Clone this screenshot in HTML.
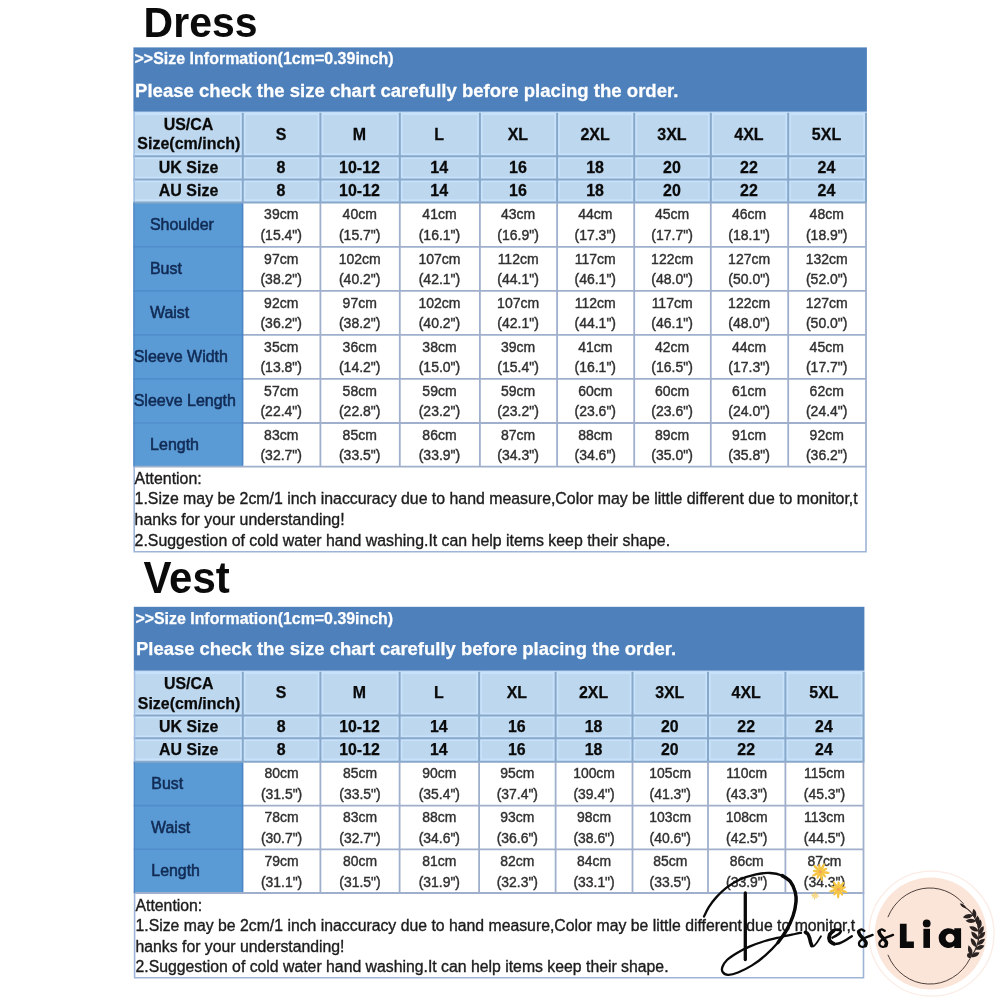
<!DOCTYPE html>
<html><head><meta charset="utf-8"><title>Size chart</title>
<style>
html,body{margin:0;padding:0;background:#fff;}
body{width:1000px;height:1000px;overflow:hidden;}
svg{display:block;font-family:"Liberation Sans",sans-serif;filter:blur(0.45px);}
.ti{font-weight:bold;fill:#0b0b0b;}
.w{font-weight:bold;fill:#fff;stroke:#fff;stroke-width:0.25;}
.h{font-weight:bold;fill:#0a0a0a;text-anchor:middle;stroke:#0a0a0a;stroke-width:0.25;}
.l{fill:#112b55;stroke:#112b55;stroke-width:0.55;}
.d{fill:#303030;text-anchor:middle;stroke:#303030;stroke-width:0.4;}
.n{fill:#1c1c1c;stroke:#1c1c1c;stroke-width:0.35;}
</style></head>
<body>
<svg width="1000" height="1000" viewBox="0 0 1000 1000">
<rect width="1000" height="1000" fill="#fff"/>
<g id="dress">
<text class="ti" transform="translate(143.6 37.4) scale(1 1.035)" font-size="41">Dress</text>
<rect x="133.4" y="47.4" width="733.5" height="64.4" fill="#4e80bc"/>
<rect x="133.4" y="111.8" width="733.5" height="90.6" fill="#bdd7ee"/>
<rect x="133.4" y="202.4" width="109.6" height="264.2" fill="#5b9bd5"/>
<line x1="133.4" x2="242.8" y1="246.8" y2="246.8" stroke="#4f8ccb" stroke-width="1.6"/>
<line x1="133.4" x2="242.8" y1="290.9" y2="290.9" stroke="#4f8ccb" stroke-width="1.6"/>
<line x1="133.4" x2="242.8" y1="334.9" y2="334.9" stroke="#4f8ccb" stroke-width="1.6"/>
<line x1="133.4" x2="242.8" y1="378.9" y2="378.9" stroke="#4f8ccb" stroke-width="1.6"/>
<line x1="133.4" x2="242.8" y1="423" y2="423" stroke="#4f8ccb" stroke-width="1.6"/>
<path d="M133.4 156.2H866.9M133.4 179.6H866.9M242.8 112.8V202.4M320.4 112.8V202.4M399.8 112.8V202.4M479.9 112.8V202.4M557.1 112.8V202.4M634.2 112.8V202.4M710.8 112.8V202.4M788.2 112.8V202.4" stroke="#c9e2fb" stroke-width="5.5" fill="none"/>
<path d="M864.4 112.8V202.4" stroke="#c9e2fb" stroke-width="2.4" fill="none"/>
<path d="M133.4 113.8H866.9" stroke="#c9e2fb" stroke-width="2.4" fill="none"/>
<path d="M133.4 200.4H866.9" stroke="#c9e2fb" stroke-width="2.4" fill="none"/>
<path d="M133.4 156.2H866.9M133.4 179.6H866.9M133.4 202.4H866.9M242.8 112.8V202.4M320.4 112.8V202.4M399.8 112.8V202.4M479.9 112.8V202.4M557.1 112.8V202.4M634.2 112.8V202.4M710.8 112.8V202.4M788.2 112.8V202.4M866 112.8V202.4" stroke="#88a8ca" stroke-width="2" fill="none"/>
<path d="M242.8 246.8H866.9M242.8 290.9H866.9M242.8 334.9H866.9M242.8 378.9H866.9M242.8 423H866.9M133.4 466.6H866.9M320.4 202.4V466.6M399.8 202.4V466.6M479.9 202.4V466.6M557.1 202.4V466.6M634.2 202.4V466.6M710.8 202.4V466.6M788.2 202.4V466.6M866 202.4V466.6" stroke="#a0b0cc" stroke-width="1.8" fill="none"/>
<path d="M242.6 203.4V465.6" stroke="#4b85c5" stroke-width="1.6" fill="none"/>
<path d="M134.2 111.8V202.4" stroke="#9fbde0" stroke-width="1.4" fill="none"/>
<path d="M134 202.4V466.6" stroke="#4f86c6" stroke-width="1.2" fill="none"/>
<path d="M134.2 466.6V551.7H866V466.6" stroke="#9db4d6" stroke-width="1.6" fill="none"/>
<text transform="translate(134.5 64.3) scale(1 1.03)" class="w" font-size="16">&gt;&gt;Size Information(1cm=0.39inch)</text>
<text transform="translate(135.1 97) scale(1 1.03)" class="w" font-size="18.55">Please check the size chart carefully before placing the order.</text>
<g class="h" font-size="16">
<text transform="translate(188.5 129.7) scale(1 1.03)">US/CA</text><text transform="translate(188.9 149.3) scale(1 1.03)">Size(cm/inch)</text>
<text transform="translate(281 139.5) scale(1 1.03)">S</text>
<text transform="translate(359.5 139.5) scale(1 1.03)">M</text>
<text transform="translate(439.25 139.5) scale(1 1.03)">L</text>
<text transform="translate(517.9 139.5) scale(1 1.03)">XL</text>
<text transform="translate(595.05 139.5) scale(1 1.03)">2XL</text>
<text transform="translate(671.9 139.5) scale(1 1.03)">3XL</text>
<text transform="translate(748.9 139.5) scale(1 1.03)">4XL</text>
<text transform="translate(826.5 139.5) scale(1 1.03)">5XL</text>
<text transform="translate(188.5 173.1) scale(1 1.03)">UK Size</text>
<text transform="translate(281 173.1) scale(1 1.03)">8</text>
<text transform="translate(359.5 173.1) scale(1 1.03)">10-12</text>
<text transform="translate(439.25 173.1) scale(1 1.03)">14</text>
<text transform="translate(517.9 173.1) scale(1 1.03)">16</text>
<text transform="translate(595.05 173.1) scale(1 1.03)">18</text>
<text transform="translate(671.9 173.1) scale(1 1.03)">20</text>
<text transform="translate(748.9 173.1) scale(1 1.03)">22</text>
<text transform="translate(826.5 173.1) scale(1 1.03)">24</text>
<text transform="translate(188.5 196) scale(1 1.03)">AU Size</text>
<text transform="translate(281 196) scale(1 1.03)">8</text>
<text transform="translate(359.5 196) scale(1 1.03)">10-12</text>
<text transform="translate(439.25 196) scale(1 1.03)">14</text>
<text transform="translate(517.9 196) scale(1 1.03)">16</text>
<text transform="translate(595.05 196) scale(1 1.03)">18</text>
<text transform="translate(671.9 196) scale(1 1.03)">20</text>
<text transform="translate(748.9 196) scale(1 1.03)">22</text>
<text transform="translate(826.5 196) scale(1 1.03)">24</text>
</g>
<g class="l" font-size="16">
<text transform="translate(149.9 229.9) scale(1 1.03)">Shoulder</text>
<text transform="translate(149.9 274.15) scale(1 1.03)">Bust</text>
<text transform="translate(149.9 318.2) scale(1 1.03)">Waist</text>
<text transform="translate(133.7 362.2) scale(1 1.03)">Sleeve Width</text>
<text transform="translate(133.7 406.25) scale(1 1.03)">Sleeve Length</text>
<text transform="translate(150.1 450.1) scale(1 1.03)">Length</text>
</g>
<g class="d" font-size="14">
<text transform="translate(281.2 219.3) scale(1 1.03)">39cm</text><text transform="translate(281.2 240.1) scale(1 1.03)">(15.4")</text>
<text transform="translate(359.7 219.3) scale(1 1.03)">40cm</text><text transform="translate(359.7 240.1) scale(1 1.03)">(15.7")</text>
<text transform="translate(439.45 219.3) scale(1 1.03)">41cm</text><text transform="translate(439.45 240.1) scale(1 1.03)">(16.1")</text>
<text transform="translate(518.1 219.3) scale(1 1.03)">43cm</text><text transform="translate(518.1 240.1) scale(1 1.03)">(16.9")</text>
<text transform="translate(595.25 219.3) scale(1 1.03)">44cm</text><text transform="translate(595.25 240.1) scale(1 1.03)">(17.3")</text>
<text transform="translate(672.1 219.3) scale(1 1.03)">45cm</text><text transform="translate(672.1 240.1) scale(1 1.03)">(17.7")</text>
<text transform="translate(749.1 219.3) scale(1 1.03)">46cm</text><text transform="translate(749.1 240.1) scale(1 1.03)">(18.1")</text>
<text transform="translate(826.7 219.3) scale(1 1.03)">48cm</text><text transform="translate(826.7 240.1) scale(1 1.03)">(18.9")</text>
<text transform="translate(281.2 263.55) scale(1 1.03)">97cm</text><text transform="translate(281.2 284.35) scale(1 1.03)">(38.2")</text>
<text transform="translate(359.7 263.55) scale(1 1.03)">102cm</text><text transform="translate(359.7 284.35) scale(1 1.03)">(40.2")</text>
<text transform="translate(439.45 263.55) scale(1 1.03)">107cm</text><text transform="translate(439.45 284.35) scale(1 1.03)">(42.1")</text>
<text transform="translate(518.1 263.55) scale(1 1.03)">112cm</text><text transform="translate(518.1 284.35) scale(1 1.03)">(44.1")</text>
<text transform="translate(595.25 263.55) scale(1 1.03)">117cm</text><text transform="translate(595.25 284.35) scale(1 1.03)">(46.1")</text>
<text transform="translate(672.1 263.55) scale(1 1.03)">122cm</text><text transform="translate(672.1 284.35) scale(1 1.03)">(48.0")</text>
<text transform="translate(749.1 263.55) scale(1 1.03)">127cm</text><text transform="translate(749.1 284.35) scale(1 1.03)">(50.0")</text>
<text transform="translate(826.7 263.55) scale(1 1.03)">132cm</text><text transform="translate(826.7 284.35) scale(1 1.03)">(52.0")</text>
<text transform="translate(281.2 307.6) scale(1 1.03)">92cm</text><text transform="translate(281.2 328.4) scale(1 1.03)">(36.2")</text>
<text transform="translate(359.7 307.6) scale(1 1.03)">97cm</text><text transform="translate(359.7 328.4) scale(1 1.03)">(38.2")</text>
<text transform="translate(439.45 307.6) scale(1 1.03)">102cm</text><text transform="translate(439.45 328.4) scale(1 1.03)">(40.2")</text>
<text transform="translate(518.1 307.6) scale(1 1.03)">107cm</text><text transform="translate(518.1 328.4) scale(1 1.03)">(42.1")</text>
<text transform="translate(595.25 307.6) scale(1 1.03)">112cm</text><text transform="translate(595.25 328.4) scale(1 1.03)">(44.1")</text>
<text transform="translate(672.1 307.6) scale(1 1.03)">117cm</text><text transform="translate(672.1 328.4) scale(1 1.03)">(46.1")</text>
<text transform="translate(749.1 307.6) scale(1 1.03)">122cm</text><text transform="translate(749.1 328.4) scale(1 1.03)">(48.0")</text>
<text transform="translate(826.7 307.6) scale(1 1.03)">127cm</text><text transform="translate(826.7 328.4) scale(1 1.03)">(50.0")</text>
<text transform="translate(281.2 351.6) scale(1 1.03)">35cm</text><text transform="translate(281.2 372.4) scale(1 1.03)">(13.8")</text>
<text transform="translate(359.7 351.6) scale(1 1.03)">36cm</text><text transform="translate(359.7 372.4) scale(1 1.03)">(14.2")</text>
<text transform="translate(439.45 351.6) scale(1 1.03)">38cm</text><text transform="translate(439.45 372.4) scale(1 1.03)">(15.0")</text>
<text transform="translate(518.1 351.6) scale(1 1.03)">39cm</text><text transform="translate(518.1 372.4) scale(1 1.03)">(15.4")</text>
<text transform="translate(595.25 351.6) scale(1 1.03)">41cm</text><text transform="translate(595.25 372.4) scale(1 1.03)">(16.1")</text>
<text transform="translate(672.1 351.6) scale(1 1.03)">42cm</text><text transform="translate(672.1 372.4) scale(1 1.03)">(16.5")</text>
<text transform="translate(749.1 351.6) scale(1 1.03)">44cm</text><text transform="translate(749.1 372.4) scale(1 1.03)">(17.3")</text>
<text transform="translate(826.7 351.6) scale(1 1.03)">45cm</text><text transform="translate(826.7 372.4) scale(1 1.03)">(17.7")</text>
<text transform="translate(281.2 395.65) scale(1 1.03)">57cm</text><text transform="translate(281.2 416.45) scale(1 1.03)">(22.4")</text>
<text transform="translate(359.7 395.65) scale(1 1.03)">58cm</text><text transform="translate(359.7 416.45) scale(1 1.03)">(22.8")</text>
<text transform="translate(439.45 395.65) scale(1 1.03)">59cm</text><text transform="translate(439.45 416.45) scale(1 1.03)">(23.2")</text>
<text transform="translate(518.1 395.65) scale(1 1.03)">59cm</text><text transform="translate(518.1 416.45) scale(1 1.03)">(23.2")</text>
<text transform="translate(595.25 395.65) scale(1 1.03)">60cm</text><text transform="translate(595.25 416.45) scale(1 1.03)">(23.6")</text>
<text transform="translate(672.1 395.65) scale(1 1.03)">60cm</text><text transform="translate(672.1 416.45) scale(1 1.03)">(23.6")</text>
<text transform="translate(749.1 395.65) scale(1 1.03)">61cm</text><text transform="translate(749.1 416.45) scale(1 1.03)">(24.0")</text>
<text transform="translate(826.7 395.65) scale(1 1.03)">62cm</text><text transform="translate(826.7 416.45) scale(1 1.03)">(24.4")</text>
<text transform="translate(281.2 439.5) scale(1 1.03)">83cm</text><text transform="translate(281.2 460.3) scale(1 1.03)">(32.7")</text>
<text transform="translate(359.7 439.5) scale(1 1.03)">85cm</text><text transform="translate(359.7 460.3) scale(1 1.03)">(33.5")</text>
<text transform="translate(439.45 439.5) scale(1 1.03)">86cm</text><text transform="translate(439.45 460.3) scale(1 1.03)">(33.9")</text>
<text transform="translate(518.1 439.5) scale(1 1.03)">87cm</text><text transform="translate(518.1 460.3) scale(1 1.03)">(34.3")</text>
<text transform="translate(595.25 439.5) scale(1 1.03)">88cm</text><text transform="translate(595.25 460.3) scale(1 1.03)">(34.6")</text>
<text transform="translate(672.1 439.5) scale(1 1.03)">89cm</text><text transform="translate(672.1 460.3) scale(1 1.03)">(35.0")</text>
<text transform="translate(749.1 439.5) scale(1 1.03)">91cm</text><text transform="translate(749.1 460.3) scale(1 1.03)">(35.8")</text>
<text transform="translate(826.7 439.5) scale(1 1.03)">92cm</text><text transform="translate(826.7 460.3) scale(1 1.03)">(36.2")</text>
</g>
<g class="n" font-size="15.88">
<text transform="translate(134.6 483.6) scale(1 1.03)">Attention:</text>
<text transform="translate(134.6 504.4) scale(1 1.03)">1.Size may be 2cm/1 inch inaccuracy due to hand measure,Color may be little different due to monitor,t</text>
<text transform="translate(134.6 525) scale(1 1.03)">hanks for your understanding!</text>
<text transform="translate(134.6 546) scale(1 1.03)">2.Suggestion of cold water hand washing.It can help items keep their shape.</text>
</g>
</g>
<g id="vest">
<text class="ti" transform="translate(143.4 593.1) scale(1 1.035)" font-size="42">Vest</text>
<rect x="133.8" y="606.8" width="730.6" height="64" fill="#4e80bc"/>
<rect x="133.8" y="670.8" width="730.6" height="90.9" fill="#bdd7ee"/>
<rect x="133.8" y="761.7" width="109.2" height="131.3" fill="#5b9bd5"/>
<line x1="133.8" x2="242.8" y1="805.6" y2="805.6" stroke="#4f8ccb" stroke-width="1.6"/>
<line x1="133.8" x2="242.8" y1="849.3" y2="849.3" stroke="#4f8ccb" stroke-width="1.6"/>
<path d="M133.8 715.5H864.4M133.8 738.3H864.4M242.8 671.8V761.7M320.4 671.8V761.7M399.6 671.8V761.7M479.1 671.8V761.7M555.6 671.8V761.7M632.5 671.8V761.7M708 671.8V761.7M785.4 671.8V761.7" stroke="#c9e2fb" stroke-width="5.5" fill="none"/>
<path d="M861.9 671.8V761.7" stroke="#c9e2fb" stroke-width="2.4" fill="none"/>
<path d="M133.8 672.8H864.4" stroke="#c9e2fb" stroke-width="2.4" fill="none"/>
<path d="M133.8 759.7H864.4" stroke="#c9e2fb" stroke-width="2.4" fill="none"/>
<path d="M133.8 715.5H864.4M133.8 738.3H864.4M133.8 761.7H864.4M242.8 671.8V761.7M320.4 671.8V761.7M399.6 671.8V761.7M479.1 671.8V761.7M555.6 671.8V761.7M632.5 671.8V761.7M708 671.8V761.7M785.4 671.8V761.7M863.5 671.8V761.7" stroke="#88a8ca" stroke-width="2" fill="none"/>
<path d="M242.8 805.6H864.4M242.8 849.3H864.4M133.8 893H864.4M320.4 761.7V893M399.6 761.7V893M479.1 761.7V893M555.6 761.7V893M632.5 761.7V893M708 761.7V893M785.4 761.7V893M863.5 761.7V893" stroke="#a0b0cc" stroke-width="1.8" fill="none"/>
<path d="M242.6 762.7V892" stroke="#4b85c5" stroke-width="1.6" fill="none"/>
<path d="M134.6 670.8V761.7" stroke="#9fbde0" stroke-width="1.4" fill="none"/>
<path d="M134.4 761.7V893" stroke="#4f86c6" stroke-width="1.2" fill="none"/>
<path d="M134.6 893V977.8H863.5V893" stroke="#9db4d6" stroke-width="1.6" fill="none"/>
<text x="135.4" y="624" class="w" font-size="15.92">&gt;&gt;Size Information(1cm=0.39inch)</text>
<text x="136" y="655.4" class="w" font-size="18.46">Please check the size chart carefully before placing the order.</text>
<g class="h" font-size="15.92">
<text x="188.7" y="688.5">US/CA</text><text x="189.1" y="708.7">Size(cm/inch)</text>
<text x="281.1" y="698.1">S</text>
<text x="359.5" y="698.1">M</text>
<text x="438.85" y="698.1">L</text>
<text x="516.85" y="698.1">XL</text>
<text x="593.55" y="698.1">2XL</text>
<text x="669.75" y="698.1">3XL</text>
<text x="746.2" y="698.1">4XL</text>
<text x="823.95" y="698.1">5XL</text>
<text x="188.7" y="732.1">UK Size</text>
<text x="281.1" y="732.1">8</text>
<text x="359.5" y="732.1">10-12</text>
<text x="438.85" y="732.1">14</text>
<text x="516.85" y="732.1">16</text>
<text x="593.55" y="732.1">18</text>
<text x="669.75" y="732.1">20</text>
<text x="746.2" y="732.1">22</text>
<text x="823.95" y="732.1">24</text>
<text x="188.7" y="755.2">AU Size</text>
<text x="281.1" y="755.2">8</text>
<text x="359.5" y="755.2">10-12</text>
<text x="438.85" y="755.2">14</text>
<text x="516.85" y="755.2">16</text>
<text x="593.55" y="755.2">18</text>
<text x="669.75" y="755.2">20</text>
<text x="746.2" y="755.2">22</text>
<text x="823.95" y="755.2">24</text>
</g>
<g class="l" font-size="15.92">
<text x="151.3" y="788.95">Bust</text>
<text x="151.1" y="832.75">Waist</text>
<text x="151.3" y="876.45">Length</text>
</g>
<g class="d" font-size="13.93">
<text x="281.6" y="778.35">80cm</text><text x="281.6" y="799.15">(31.5")</text>
<text x="360" y="778.35">85cm</text><text x="360" y="799.15">(33.5")</text>
<text x="439.35" y="778.35">90cm</text><text x="439.35" y="799.15">(35.4")</text>
<text x="517.35" y="778.35">95cm</text><text x="517.35" y="799.15">(37.4")</text>
<text x="594.05" y="778.35">100cm</text><text x="594.05" y="799.15">(39.4")</text>
<text x="670.25" y="778.35">105cm</text><text x="670.25" y="799.15">(41.3")</text>
<text x="746.7" y="778.35">110cm</text><text x="746.7" y="799.15">(43.3")</text>
<text x="824.45" y="778.35">115cm</text><text x="824.45" y="799.15">(45.3")</text>
<text x="281.6" y="822.15">78cm</text><text x="281.6" y="842.95">(30.7")</text>
<text x="360" y="822.15">83cm</text><text x="360" y="842.95">(32.7")</text>
<text x="439.35" y="822.15">88cm</text><text x="439.35" y="842.95">(34.6")</text>
<text x="517.35" y="822.15">93cm</text><text x="517.35" y="842.95">(36.6")</text>
<text x="594.05" y="822.15">98cm</text><text x="594.05" y="842.95">(38.6")</text>
<text x="670.25" y="822.15">103cm</text><text x="670.25" y="842.95">(40.6")</text>
<text x="746.7" y="822.15">108cm</text><text x="746.7" y="842.95">(42.5")</text>
<text x="824.45" y="822.15">113cm</text><text x="824.45" y="842.95">(44.5")</text>
<text x="281.6" y="865.85">79cm</text><text x="281.6" y="886.65">(31.1")</text>
<text x="360" y="865.85">80cm</text><text x="360" y="886.65">(31.5")</text>
<text x="439.35" y="865.85">81cm</text><text x="439.35" y="886.65">(31.9")</text>
<text x="517.35" y="865.85">82cm</text><text x="517.35" y="886.65">(32.3")</text>
<text x="594.05" y="865.85">84cm</text><text x="594.05" y="886.65">(33.1")</text>
<text x="670.25" y="865.85">85cm</text><text x="670.25" y="886.65">(33.5")</text>
<text x="746.7" y="865.85">86cm</text><text x="746.7" y="886.65">(33.9")</text>
<text x="824.45" y="865.85">87cm</text><text x="824.45" y="886.65">(34.3")</text>
</g>
<g class="n" font-size="15.8">
<text x="135.5" y="910.6">Attention:</text>
<text x="135.5" y="931">1.Size may be 2cm/1 inch inaccuracy due to hand measure,Color may be little different due to monitor,t</text>
<text x="135.5" y="951.5">hanks for your understanding!</text>
<text x="135.5" y="972.2">2.Suggestion of cold water hand washing.It can help items keep their shape.</text>
</g>
</g>
<g id="logo">
<circle cx="931.5" cy="933.7" r="62.5" fill="none" stroke="#fbece5" stroke-width="1.3"/>
<circle cx="930.7" cy="933.6" r="56" fill="#fbe4d8"/>
<path d="M887.9 917.2A45.5 48 0 0 1 963.6 903.9M887.9 954.8A45.5 48 0 0 0 970 958.5" fill="none" stroke="#3b2e29" stroke-width="0.9"/>
<g fill="none" stroke="#0a0a0a" stroke-linecap="round" stroke-linejoin="round">
<path d="M704 916.5C704.8 915 706.8 910.4 708.8 907.2C710.8 904.1 712.9 900.9 716 897.6C719.1 894.3 723.2 890.2 727.2 887.2C731.2 884.2 735.2 881.6 740 879.5C744.8 877.4 751 875.5 756 874.4C761 873.3 765.7 872.8 770 873C774.3 873.2 778.6 874.1 782 875.5C785.4 876.9 788.2 878.9 790.4 881.6C792.6 884.4 794.3 888.6 795.2 892C796.1 895.4 796.4 898 796 902C795.6 906 794.6 911.3 793 916C791.4 920.7 788.9 926 786.4 930.4C783.9 934.8 781.5 938.5 778 942.6C774.5 946.7 769.9 951.4 765.6 955.2C761.3 959 756.6 962.5 752 965.4C747.4 968.3 742 970.9 738 972.5C734 974.1 730.5 974.9 728 974.8C725.5 974.7 723.6 973.3 722.7 972C721.8 970.7 721.7 969 722.4 967C723.1 965 724.6 962.3 727 960C729.4 957.7 733.2 955.3 737 953C740.8 950.7 745.3 948.4 750 946.4C754.7 944.4 759.8 942.6 765 941C770.2 939.4 776 938.2 781 937C786 935.8 791.7 934.7 795 934C798.3 933.3 800 933 801 932.8" stroke-width="2.3"/>
<path d="M782 875.5C783.4 876.5 788.2 878.9 790.4 881.6C792.6 884.4 794.3 888.6 795.2 892C796.1 895.4 796.4 898 796 902C795.6 906 794.6 911.3 793 916C791.4 920.7 788.9 926 786.4 930.4C783.9 934.8 779.4 940.6 778 942.6" stroke-width="3.4"/>
<path d="M745.3 893V959.5" stroke-width="3.3"/>
<path d="M805.4 932.4C805.8 932.7 807.1 933.1 807.8 934C808.5 934.9 808.9 936.2 809.4 937.5C809.9 938.8 810.1 940.6 810.5 942C810.9 943.4 811.6 945 811.8 945.6" stroke-width="3.6"/>
<path d="M811.6 946C811.9 946 812.9 946.6 813.6 946.2C814.3 945.8 815.2 944.8 816 943.8C816.8 942.8 817.8 941.2 818.6 940C819.4 938.8 820.6 936.9 821 936.3" stroke-width="1.8"/>
<path d="M832.5 937.6C833.2 937.2 835.2 936.2 836.5 935.4C837.8 934.6 839.5 933.4 840.2 932.6C840.9 931.8 841 931.1 840.6 930.6C840.2 930.1 839.2 929.6 838 929.6C836.8 929.6 834.9 929.9 833.5 930.8C832.1 931.7 830.2 933.4 829.6 935C829 936.6 828.9 939.1 829.6 940.6C830.3 942.1 832.1 943.4 833.8 943.8C835.4 944.2 837.5 943.8 839.5 943.2C841.5 942.6 844 941.2 846 940C848 938.8 850.8 936.8 851.8 936.2" stroke-width="2.5"/>
<path d="M833.5 930.8C832.9 931.5 830.2 933.4 829.6 935C829 936.6 828.9 939.1 829.6 940.6C830.3 942.1 833.1 943.3 833.8 943.8" stroke-width="3.8"/>
<path d="M864.3 930.8C863.8 930.6 862.2 929.3 861.2 929.4C860.2 929.5 858.8 930.7 858.6 931.6C858.4 932.5 859.2 933.8 860 935C860.8 936.2 862.2 937.5 863.2 938.7C864.2 939.9 865.6 941.2 866 942.4C866.4 943.5 866 944.9 865.4 945.6C864.8 946.4 863.4 947 862.4 946.9C861.4 946.8 859.7 945.9 859.2 945C858.7 944.1 858.9 942.6 859.6 941.6C860.3 940.6 861.8 939.5 863.2 938.7C864.6 937.9 866.4 937.2 868 936.6C869.6 936 871.8 935.2 872.6 934.9" stroke-width="2.4"/>
<path d="M858.6 931.6C858.8 932.2 859.2 933.8 860 935C860.8 936.2 862.2 937.5 863.2 938.7C864.2 939.9 865.6 941.2 866 942.4C866.4 943.5 865.5 945.1 865.4 945.6" stroke-width="3.6"/>
<path d="M884.7 930.8C884.2 930.6 882.5 929.3 881.6 929.4C880.7 929.5 879.2 930.7 879 931.6C878.8 932.5 879.6 933.8 880.4 935C881.2 936.2 882.6 937.5 883.6 938.7C884.6 939.9 886 941.2 886.4 942.4C886.8 943.5 886.4 944.9 885.8 945.6C885.2 946.4 883.8 947 882.8 946.9C881.8 946.8 880.1 945.9 879.6 945C879.1 944.1 879.3 942.6 880 941.6C880.7 940.6 882.2 939.5 883.6 938.7C885 937.9 886.8 937.2 888.4 936.6C890 936 892.2 935.2 893 934.9" stroke-width="2.4"/>
<path d="M879 931.6C879.2 932.2 879.6 933.8 880.4 935C881.2 936.2 882.6 937.5 883.6 938.7C884.6 939.9 886 941.2 886.4 942.4C886.8 943.5 885.9 945.1 885.8 945.6" stroke-width="3.6"/>
</g>
<g fill="#0a0a0a">
<path d="M899.9 923.8H906.6V941.6H913.9V947.9H899.9Z"/>
<rect x="923.4" y="928.8" width="6.6" height="19.1"/><circle cx="926.7" cy="923.4" r="3.9"/>
<path fill-rule="evenodd" d="M954.3 928.2H961.1V947.9H954.3V946.1A9.9 9.9 0 1 1 954.3 930ZM954.4 938.1A4.4 4.4 0 1 0 945.6 938.1A4.4 4.4 0 1 0 954.4 938.1Z"/>
</g>
<path d="M970 958.2C970.8 957 973.5 953.5 974.8 950.8C976.1 948.1 977.3 944.9 978 942C978.7 939.1 978.9 935.9 978.9 933.2C978.9 930.5 978.5 928.3 978 926C977.5 923.7 976.5 921.6 975.6 919.6C974.7 917.6 973.7 915.7 972.4 914C971.1 912.3 969.4 910.7 967.6 909.2C965.8 907.7 962.5 905.9 961.5 905.2" fill="none" stroke="#2a2321" stroke-width="1.1"/>
<path d="M973.3 915.3Q967.3 912.1 962.8 917.2Q968.8 920.4 973.3 915.3ZM976.3 921.1Q971.1 916.8 965.6 920.8Q970.8 925.2 976.3 921.1ZM978.8 931.3Q975.9 925.1 969.2 926.4Q972.1 932.6 978.8 931.3ZM978.4 939.8Q978 932.9 971.2 931.6Q971.7 938.5 978.4 939.8ZM976.4 947.2Q977.2 940.4 970.8 938Q970 944.8 976.4 947.2ZM971.7 955.7Q974.2 949.3 968.6 945.2Q966.1 951.7 971.7 955.7ZM970 958.2Q972.9 954.1 968 953Q965.1 957.1 970 958.2ZM975.1 918.6Q978.5 913.1 973.6 908.8Q970.2 914.4 975.1 918.6ZM977.9 925.4Q981.8 920.2 977.4 915.4Q973.4 920.6 977.9 925.4ZM978.7 929.5Q983.7 925.3 980.6 919.6Q975.5 923.7 978.7 929.5ZM978.9 934.6Q984.9 932.3 983.6 926Q977.6 928.3 978.9 934.6ZM978.5 939Q985 938.3 985.2 931.8Q978.8 932.6 978.5 939ZM977.2 945Q983.7 945.2 985 938.8Q978.5 938.6 977.2 945ZM975.5 949.4Q981.6 951.2 984.4 945.4Q978.2 943.6 975.5 949.4ZM970.9 956.9Q977.1 958.5 979.6 952.6Q973.4 951 970.9 956.9ZM966.5 908.3Q964.6 903.8 959.8 903.6Q961.7 908.1 966.5 908.3Z" fill="#2a2321"/>
<g transform="translate(820.4 871.8)" opacity="1.0"><ellipse cx="4.9" cy="0" rx="4.5" ry="1.3" fill="#f6c544" transform="rotate(8)"/><ellipse cx="4.1" cy="0" rx="3.7" ry="1.3" fill="#f6c544" transform="rotate(44)"/><ellipse cx="4.9" cy="0" rx="4.5" ry="1.3" fill="#f6c544" transform="rotate(80)"/><ellipse cx="4.1" cy="0" rx="3.7" ry="1.3" fill="#f6c544" transform="rotate(116)"/><ellipse cx="4.9" cy="0" rx="4.5" ry="1.3" fill="#f6c544" transform="rotate(152)"/><ellipse cx="4.1" cy="0" rx="3.7" ry="1.3" fill="#f6c544" transform="rotate(188)"/><ellipse cx="4.9" cy="0" rx="4.5" ry="1.3" fill="#f6c544" transform="rotate(224)"/><ellipse cx="4.1" cy="0" rx="3.7" ry="1.3" fill="#f6c544" transform="rotate(260)"/><ellipse cx="4.9" cy="0" rx="4.5" ry="1.3" fill="#f6c544" transform="rotate(296)"/><ellipse cx="4.1" cy="0" rx="3.7" ry="1.3" fill="#f6c544" transform="rotate(332)"/><circle r="1.5" fill="#f2a25c"/></g>
<g transform="translate(838.4 889.2)" opacity="1.0"><ellipse cx="4.9" cy="0" rx="4.5" ry="1.3" fill="#f6c544" transform="rotate(20)"/><ellipse cx="4.1" cy="0" rx="3.7" ry="1.3" fill="#f6c544" transform="rotate(56)"/><ellipse cx="4.9" cy="0" rx="4.5" ry="1.3" fill="#f6c544" transform="rotate(92)"/><ellipse cx="4.1" cy="0" rx="3.7" ry="1.3" fill="#f6c544" transform="rotate(128)"/><ellipse cx="4.9" cy="0" rx="4.5" ry="1.3" fill="#f6c544" transform="rotate(164)"/><ellipse cx="4.1" cy="0" rx="3.7" ry="1.3" fill="#f6c544" transform="rotate(200)"/><ellipse cx="4.9" cy="0" rx="4.5" ry="1.3" fill="#f6c544" transform="rotate(236)"/><ellipse cx="4.1" cy="0" rx="3.7" ry="1.3" fill="#f6c544" transform="rotate(272)"/><ellipse cx="4.9" cy="0" rx="4.5" ry="1.3" fill="#f6c544" transform="rotate(308)"/><ellipse cx="4.1" cy="0" rx="3.7" ry="1.3" fill="#f6c544" transform="rotate(344)"/><circle r="1.5" fill="#f2a25c"/></g>
<g transform="translate(815 895.6)" opacity="0.7"><ellipse cx="2.3" cy="0" rx="1.9" ry="0.7" fill="#f6c544" transform="rotate(8)"/><ellipse cx="2" cy="0" rx="1.6" ry="0.7" fill="#f6c544" transform="rotate(53)"/><ellipse cx="2.3" cy="0" rx="1.9" ry="0.7" fill="#f6c544" transform="rotate(98)"/><ellipse cx="2" cy="0" rx="1.6" ry="0.7" fill="#f6c544" transform="rotate(143)"/><ellipse cx="2.3" cy="0" rx="1.9" ry="0.7" fill="#f6c544" transform="rotate(188)"/><ellipse cx="2" cy="0" rx="1.6" ry="0.7" fill="#f6c544" transform="rotate(233)"/><ellipse cx="2.3" cy="0" rx="1.9" ry="0.7" fill="#f6c544" transform="rotate(278)"/><ellipse cx="2" cy="0" rx="1.6" ry="0.7" fill="#f6c544" transform="rotate(323)"/><circle r="0.6" fill="#f2a25c"/></g>
</g>
</svg>
</body></html>
